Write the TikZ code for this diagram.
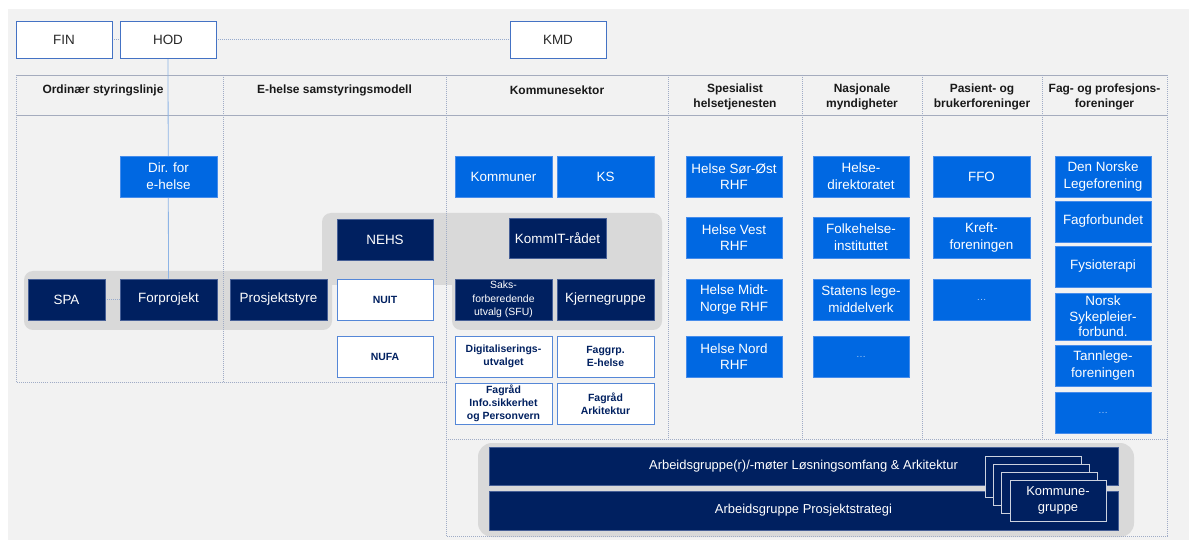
\documentclass[tikz,border=0pt]{standalone}
\usepackage{fontspec}
\setmainfont{Liberation Sans}
\definecolor{panel}{RGB}{242,242,242}
\definecolor{band}{RGB}{217,217,217}
\definecolor{lblue}{RGB}{0,104,226}
\definecolor{lblueborder}{RGB}{70,140,235}
\definecolor{navy}{RGB}{0,32,96}
\definecolor{navyborder}{RGB}{70,95,150}
\definecolor{wborder}{RGB}{85,135,215}
\definecolor{tborder}{RGB}{68,114,196}
\definecolor{sepc}{RGB}{160,172,198}
\definecolor{hline}{RGB}{165,172,190}
\definecolor{connc}{RGB}{141,180,230}
\definecolor{dotc}{RGB}{150,170,205}
\definecolor{darktext}{RGB}{40,40,40}
\pgfdeclarelayer{back}
\pgfdeclarelayer{mid}
\pgfsetlayers{back,mid,main}
\tikzset{
  box/.style={rectangle, inner sep=1bp, align=center, minimum width=97bp, minimum height=41bp, font=\fontsize{13.5}{16.8}\selectfont},
  bluebox/.style={box, fill=lblue, draw=lblueborder, line width=0.6bp, text=white},
  navybox/.style={box, fill=navy, draw=navyborder, line width=0.6bp, text=white},
  whitebox/.style={box, fill=white, draw=wborder, line width=0.8bp, text=navy, font=\bfseries\fontsize{10.5}{12.8}\selectfont},
  topbox/.style={box, fill=white, draw=tborder, line width=0.8bp, text=darktext, minimum width=96bp, minimum height=37bp},
  dotsbox/.style={bluebox, font=\fontsize{10}{12}\selectfont, text=white!65!lblue},
  hdr/.style={align=center, inner sep=0pt, font=\bfseries\fontsize{12}{15}\selectfont, text=black!90},
  sepline/.style={draw=sepc, line width=0.6bp, dash pattern=on 1bp off 1bp},
  hrule/.style={draw=hline, line width=0.7bp},
  conn/.style={draw=connc, line width=0.8bp},
  dotconn/.style={draw=dotc, line width=0.7bp, dash pattern=on 1bp off 1bp},
  card/.style={rectangle, fill=navy, draw=white!80!navy, line width=0.7bp, minimum width=96bp, minimum height=41bp, inner sep=1bp, align=center, text=white, font=\fontsize{13}{16}\selectfont},
  bar/.style={rectangle, fill=navy, draw=navyborder, line width=0.6bp, minimum width=629bp, inner sep=1bp, text=white, font=\fontsize{13}{16}\selectfont}
}
\begin{document}
\begin{tikzpicture}[x=1bp,y=-1bp]
\useasboundingbox (0,0) rectangle (1189,542);

\begin{pgfonlayer}{back}
  \fill[white] (0,0) rectangle (1189,542);
  \fill[panel] (8,9) rectangle (1189,540);
  % grey bands
  \fill[band, rounded corners=9bp] (24,271) rectangle (332,330);
  \fill[band, rounded corners=9bp] (452,272) rectangle (662,330);
  \fill[band, rounded corners=9bp] (322,213) rectangle (662,285);
  \fill[band, rounded corners=14bp] (478,443) rectangle (1134,537);
  % header rules
  \draw[hrule] (16,75) -- (1167,75);
  \draw[hrule] (16,115) -- (1167,115);
  % column separators
  \draw[sepline] (16.5,75) -- (16.5,382) -- (446,382);
  \draw[sepline] (223,75) -- (223,382);
  \draw[sepline] (446,75) -- (446,536) -- (1167,536) -- (1167,75);
  \draw[sepline] (446,439) -- (1167,439);
  \foreach \sx in {668,802,922,1042} \draw[sepline] (\sx,75) -- (\sx,439);
\end{pgfonlayer}

% headers
\node[hdr] (h1) at (103,90) {Ordinær styringslinje};
\node[hdr] (h2) at (334.5,90) {E-helse samstyringsmodell};
\node[hdr] (h3) at (557,90) {Kommunesektor};
\node[hdr] (h4) at (735,96.5) {Spesialist\\helsetjenesten};
\node[hdr] (h5) at (862,96.5) {Nasjonale\\myndigheter};
\node[hdr] (h6) at (982,96.5) {Pasient- og\\brukerforeninger};
\node[hdr] (h7) at (1104.5,96.5) {Fag- og profesjons-\\foreninger};

% top boxes
\node[topbox] (FIN) at (64,39.5) {FIN};
\node[topbox] (HOD) at (168,39.5) {HOD};
\node[topbox] (KMD) at (558,39.5) {KMD};

% left part
\node[bluebox] (DIR) at (168.5,176.5) {Dir. for\\e-helse};
\node[navybox, minimum width=77bp] (SPA) at (66.5,299.5) {SPA};
\node[navybox] (FORP) at (168.5,299.5) {Forprojekt};
\node[navybox] (PSTY) at (278.5,299.5) {Prosjektstyre};
\node[navybox, minimum width=96bp] (NEHS) at (385,239.5) {NEHS};
\node[whitebox, minimum width=96bp] (NUIT) at (385,299.5) {NUIT};
\node[whitebox, minimum width=96bp] (NUFA) at (385,356.5) {NUFA};

% kommunesektor
\node[bluebox] (KOMM) at (503.5,176.5) {Kommuner};
\node[bluebox] (KS) at (605.5,176.5) {KS};
\node[navybox, minimum height=40bp] (KIT) at (557.5,238) {KommIT-rådet};
\node[navybox, font=\fontsize{10.5}{13.3}\selectfont] (SFU) at (503.5,299.5) {Saks-\\forberedende\\utvalg (SFU)};
\node[navybox] (KJG) at (605.5,299.5) {Kjernegruppe};
\node[whitebox] (DIGI) at (503.5,356.5) {Digitaliserings-\\utvalget};
\node[whitebox] (FAGG) at (605.5,356.5) {Faggrp.\\E-helse};
\node[whitebox] (FINFO) at (503.5,403.5) {Fagråd\\Info.sikkerhet\\og Personvern};
\node[whitebox] (FARK) at (605.5,403.5) {Fagråd\\Arkitektur};

% spesialisthelsetjenesten
\node[bluebox, minimum width=96bp] (HSO) at (734,176.5) {Helse Sør-Øst\\RHF};
\node[bluebox, minimum width=96bp] (HV) at (734,237.5) {Helse Vest\\RHF};
\node[bluebox, minimum width=96bp] (HM) at (734,299.5) {Helse Midt-\\Norge RHF};
\node[bluebox, minimum width=96bp] (HN) at (734,356.5) {Helse Nord\\RHF};

% nasjonale myndigheter
\node[bluebox, minimum width=96bp] (HDIR) at (861,176.5) {Helse-\\direktoratet};
\node[bluebox, minimum width=96bp] (FHI) at (861,237.5) {Folkehelse-\\instituttet};
\node[bluebox, minimum width=96bp] (SLV) at (861,299.5) {Statens lege-\\middelverk};
\node[dotsbox, minimum width=96bp] (NM4) at (861,356.5) {…};

% pasient
\node[bluebox] (FFO) at (981.5,176.5) {FFO};
\node[bluebox] (KREFT) at (981.5,237.5) {Kreft-\\foreningen};
\node[dotsbox] (PB3) at (981.5,299.5) {…};

% fag
\node[bluebox, minimum width=96bp] (LEGE) at (1103,176.5) {Den Norske\\Legeforening};
\node[bluebox, minimum width=96bp] (FAGF) at (1103,221.5) {Fagforbundet};
\node[bluebox, minimum width=96bp] (FYS) at (1103,266.5) {Fysioterapi};
\node[bluebox, minimum width=96bp, minimum height=47bp, font=\fontsize{13.5}{15.5}\selectfont] (NSF) at (1103,316.5) {Norsk\\Sykepleier-\\forbund.};
\node[bluebox, minimum width=96bp] (TANN) at (1103,365.5) {Tannlege-\\foreningen};
\node[dotsbox, minimum width=96bp] (FP6) at (1103,412.5) {…};

% bottom bars
\node[bar, minimum height=38bp] (BAR1) at (803.5,466) {Arbeidsgruppe(r)/-møter Løsningsomfang \& Arkitektur};
\node[bar, minimum height=39bp] (BAR2) at (803.5,510.5) {Arbeidsgruppe Prosjektstrategi};
\node[card] (C1) at (1033,476.5) {};
\node[card] (C2) at (1041.3,484.5) {};
\node[card] (C3) at (1049.7,492.5) {};
\node[card] (C4) at (1058,500.5) {Kommune-\\gruppe};

% connectors
\begin{pgfonlayer}{mid}
  \draw[conn] (HOD.south) -- (FORP.north);
  \draw[dotconn] (FIN.east) -- (HOD.west);
  \draw[dotconn] (HOD.east) -- (KMD.west);
  \draw[dotconn] (SPA.east) -- (FORP.west);
\end{pgfonlayer}
\end{tikzpicture}
\end{document}
